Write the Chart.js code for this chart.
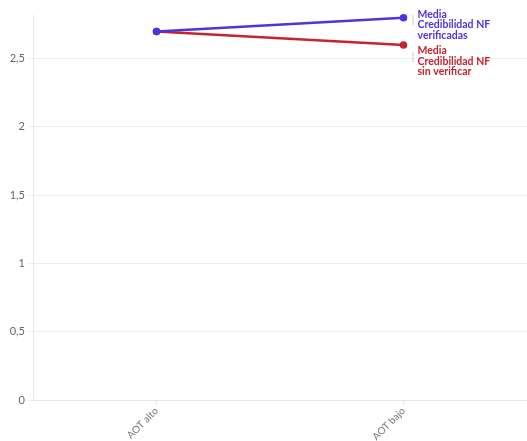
<!DOCTYPE html>
<html>
<head>
<meta charset="utf-8">
<script src="https://cdn.jsdelivr.net/npm/chart.js@4/dist/chart.umd.min.js"></script>
<style>
  html, body { margin: 0; padding: 0; background: #fff; }
  #wrap { width: 527px; height: 441px; position: relative; }
</style>
</head>
<body>
<div id="wrap"><canvas id="chart"></canvas></div>
<script>
const categories = ['AOT alto', 'AOT bajo'];
const verificadas = [2.70, 2.80];
const sinVerificar = [2.70, 2.60];
const yTicks = [0, 0.5, 1, 1.5, 2, 2.5];

const BLUE = '#5232e0';
const RED = '#c8232c';
const FONT = 'Lato, "Noto Sans", sans-serif';

const seriesLabels = [
  { lines: ['Media', 'Credibilidad NF', 'verificadas'], color: BLUE, shift: -3.5 },
  { lines: ['Media', 'Credibilidad NF', 'sin verificar'], color: RED, shift: 6 }
];

// labels drawn next to the last point of each line
const endLabels = {
  id: 'endLabels',
  afterDatasetsDraw(chart) {
    const ctx = chart.ctx;
    ctx.save();
    ctx.font = 'bold 10.5px ' + FONT;
    ctx.textBaseline = 'middle';
    ctx.textAlign = 'left';
    chart.data.datasets.forEach((ds, i) => {
      const meta = chart.getDatasetMeta(i);
      const pt = meta.data[meta.data.length - 1];
      const info = seriesLabels[i];
      const y0 = pt.y + info.shift;
      ctx.strokeStyle = '#cccccc';
      ctx.lineWidth = 1;
      ctx.beginPath();
      ctx.moveTo(pt.x + 9.5, y0 + 1);
      ctx.lineTo(pt.x + 9.5, y0 + 11);
      ctx.stroke();
      ctx.fillStyle = info.color;
      info.lines.forEach((t, j) => ctx.fillText(t, pt.x + 14, y0 + j * 10.5));
    });
    ctx.restore();
  }
};

new Chart(document.getElementById('chart'), {
  type: 'line',
  data: {
    labels: categories,
    datasets: [
      {
        label: 'Media Credibilidad NF verificadas',
        data: verificadas,
        borderColor: BLUE,
        backgroundColor: BLUE,
        borderWidth: 2.5,
        pointRadius: 2.5,
        pointHoverRadius: 2.5,
        clip: false,
        order: 0
      },
      {
        label: 'Media Credibilidad NF sin verificar',
        data: sinVerificar,
        borderColor: RED,
        backgroundColor: RED,
        borderWidth: 2.5,
        pointRadius: 2.5,
        pointHoverRadius: 2.5,
        clip: false,
        order: 1
      }
    ]
  },
  options: {
    responsive: true,
    maintainAspectRatio: false,
    animation: false,
    layout: { autoPadding: false, padding: { top: 15, right: 0, left: 0, bottom: 0 } },
    plugins: {
      legend: { display: false },
      tooltip: { enabled: false }
    },
    scales: {
      x: {
        offset: true,
        grid: {
          display: true,
          drawOnChartArea: false,
          color: '#e6e6e6',
          tickLength: 5
        },
        border: { color: '#e6e6e6' },
        ticks: {
          color: '#777',
          font: { family: FONT, size: 10 },
          minRotation: 45,
          maxRotation: 45,
          padding: 0
        },
        afterFit: s => {
          s.height = 41;
          s.paddingLeft = 0;
          s.paddingRight = 0;
        }
      },
      y: {
        min: 0,
        max: 2.82,
        grid: { color: '#eeeeee', tickLength: 5 },
        border: { color: '#e6e6e6' },
        ticks: {
          color: '#666',
          font: { family: FONT, size: 11 },
          padding: 3,
          callback: v => String(v).replace('.', ',')
        },
        afterBuildTicks: s => { s.ticks = yTicks.map(v => ({ value: v })); },
        afterFit: s => {
          s.width = 33;
          s.paddingTop = 0;
          s.paddingBottom = 0;
        }
      }
    }
  },
  plugins: [endLabels]
});
</script>
</body>
</html>
